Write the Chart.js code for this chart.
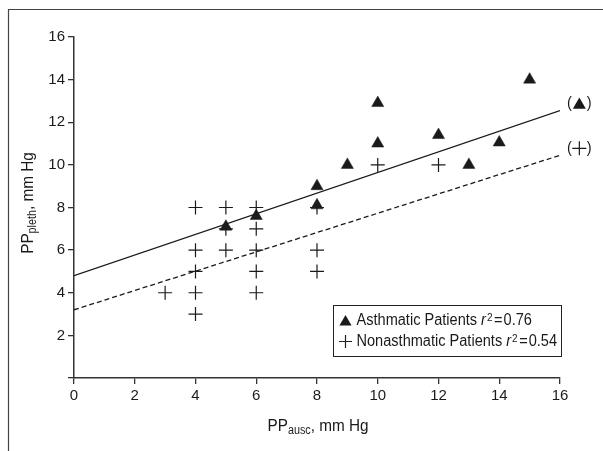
<!DOCTYPE html>
<html><head><meta charset="utf-8">
<script src="https://cdn.jsdelivr.net/npm/chart.js@4/dist/chart.umd.min.js"></script>
<style>html,body{margin:0;padding:0;background:#fff}#wrap{width:603px;height:451px}canvas{display:block}</style>
</head><body>
<div id="wrap"><canvas id="c" width="603" height="451"></canvas></div>
<script>
// Data
const asthmaX = [5, 6, 8, 8, 9, 10, 10, 12, 13, 14, 15];
const asthmaY = [7.1, 7.6, 9.0, 8.1, 10.0, 12.9, 11.0, 11.4, 10.0, 11.05, 14.0];
const nonX = [3, 4, 4, 4, 4, 4, 5, 5, 5, 6, 6, 6, 6, 6, 8, 8, 8, 10, 12];
const nonY = [4, 3, 4, 5, 6, 8, 6, 7, 8, 4, 5, 6, 7, 8, 5, 6, 8, 10, 10];
const fitX = [0, 16];
const asthmaFit = [4.8, 12.55];
const nonFit = [3.2, 10.45];
const xTicks = [0, 2, 4, 6, 8, 10, 12, 14, 16];
const yTicks = [0, 2, 4, 6, 8, 10, 12, 14, 16];
const legendRows = [
  {name: 'Asthmatic Patients ', r2: '0.76', marker: 'triangle'},
  {name: 'Nonasthmatic Patients ', r2: '0.54', marker: 'cross'}
];
const lineTags = ['triangle', 'cross'];

const FONT = '"Liberation Sans", Arial, sans-serif';
const INK = '#1a1a1a';
const AX = '#333';

const pts = (xs, ys) => xs.map((x, i) => ({x, y: ys[i]}));

function drawTri(ctx, cx, cy, r) {
  ctx.beginPath();
  ctx.moveTo(cx, cy - r);
  ctx.lineTo(cx + r * 0.866, cy + r * 0.5);
  ctx.lineTo(cx - r * 0.866, cy + r * 0.5);
  ctx.closePath();
  ctx.fill();
}
function drawCross(ctx, cx, cy, r) {
  ctx.beginPath();
  ctx.moveTo(cx - r, cy); ctx.lineTo(cx + r, cy);
  ctx.moveTo(cx, cy - r); ctx.lineTo(cx, cy + r);
  ctx.stroke();
}
// draw horizontally condensed text, returns advance width
function ctext(ctx, s, x, y, font, sq) {
  ctx.font = font;
  ctx.save();
  ctx.translate(x, y);
  ctx.scale(sq, 1);
  ctx.textAlign = 'left';
  ctx.fillText(s, 0, 0);
  ctx.restore();
  return ctx.measureText(s).width * sq;
}
function cwidth(ctx, s, font, sq) { ctx.font = font; return ctx.measureText(s).width * sq; }

const decor = {
  id: 'decor',
  beforeDraw(chart) {
    const ctx = chart.ctx;
    ctx.save();
    ctx.fillStyle = '#fff';
    ctx.fillRect(0, 0, chart.width, chart.height);
    ctx.strokeStyle = '#444';
    ctx.lineWidth = 1.2;
    ctx.beginPath();
    ctx.moveTo(8.5, 460); ctx.lineTo(8.5, 9.5); ctx.lineTo(620, 9.5);
    ctx.stroke();
    ctx.restore();
  },
  afterDraw(chart) {
    const ctx = chart.ctx;
    const xs = chart.scales.x, ys = chart.scales.y;
    ctx.save();
    ctx.fillStyle = INK; ctx.strokeStyle = INK;
    ctx.textBaseline = 'middle';
    const tBig = '17px ' + FONT, tSmall = '12px ' + FONT, TSQ = 0.9;
    function drawTitle(cx, cy, main, sub, rest) {
      const w = cwidth(ctx, main, tBig, TSQ) + cwidth(ctx, sub, tSmall, TSQ) + cwidth(ctx, rest, tBig, TSQ);
      let x = cx - w / 2;
      x += ctext(ctx, main, x, cy, tBig, TSQ);
      x += ctext(ctx, sub, x, cy + 5, tSmall, TSQ);
      ctext(ctx, rest, x, cy, tBig, TSQ);
    }
    drawTitle((xs.left + xs.right) / 2 + 1, 426, 'PP', 'ausc', ', mm Hg');
    ctx.save();
    ctx.translate(28, 203);
    ctx.rotate(-Math.PI / 2);
    drawTitle(0, 0, 'PP', 'pleth', ', mm Hg');
    ctx.restore();

    const big = '16px ' + FONT, small = '11px ' + FONT, SQ = 0.91;
    // line-end tags
    const ends = [asthmaFit[1], nonFit[1]];
    lineTags.forEach((tag, i) => {
      const px = xs.getPixelForValue(fitX[1]) + 7;
      const py = ys.getPixelForValue(ends[i]) - 7;
      const wp = ctext(ctx, '(', px, py, big, SQ);
      if (tag === 'triangle') {
        drawTri(ctx, px + wp + 7.5, py + 1.5, 7.5);
      } else {
        ctx.lineWidth = 1.2;
        drawCross(ctx, px + wp + 7.5, py, 7);
      }
      ctext(ctx, ')', px + wp + 15, py, big, SQ);
    });

    // legend
    const bx = 333.5, by = 305.5, bw = 228, bh = 51;
    ctx.lineWidth = 1;
    ctx.strokeStyle = '#222';
    ctx.strokeRect(bx, by, bw, bh);
    legendRows.forEach((row, i) => {
      const cy = by + 15 + i * 21;
      let x = bx + 23;
      if (row.marker === 'triangle') drawTri(ctx, bx + 12, cy + 1.5, 7);
      else { ctx.lineWidth = 1.2; drawCross(ctx, bx + 12, cy, 6.5); }
      x += ctext(ctx, row.name, x, cy, big, SQ);
      x += ctext(ctx, 'r', x, cy, 'italic ' + big, SQ) + 1;
      x += ctext(ctx, '2', x, cy - 3, small, SQ) + 1.5;
      x += ctext(ctx, '=', x, cy, big, SQ) + 1;
      ctext(ctx, row.r2, x, cy, big, SQ);
    });
    ctx.restore();
  }
};

new Chart(document.getElementById('c'), {
  type: 'scatter',
  data: {
    datasets: [
      {type: 'line', data: pts(fitX, asthmaFit), borderColor: INK, borderWidth: 1.3, pointRadius: 0, fill: false, order: 3},
      {type: 'line', data: pts(fitX, nonFit), borderColor: INK, borderWidth: 1.3, borderDash: [5, 3], pointRadius: 0, fill: false, order: 3},
      {data: pts(nonX, nonY), pointStyle: 'cross', pointRadius: 7, borderColor: INK, borderWidth: 1.2, backgroundColor: INK, order: 2},
      {data: pts(asthmaX, asthmaY), pointStyle: 'triangle', pointRadius: 7, borderColor: INK, borderWidth: 0.5, backgroundColor: INK, order: 1}
    ]
  },
  options: {
    responsive: false,
    animation: false,
    devicePixelRatio: 1,
    layout: {padding: {left: 0, top: 37, right: 43, bottom: 0}},
    plugins: {legend: {display: false}, tooltip: {enabled: false}},
    scales: {
      x: {
        type: 'linear', min: 0, max: 16,
        afterBuildTicks: s => { s.ticks = xTicks.map(v => ({value: v})); },
        afterFit: s => { s.height = 73; },
        grid: {drawOnChartArea: false, drawTicks: true, tickLength: 6, color: AX, lineWidth: 1.3},
        border: {display: true, color: AX, width: 1.5},
        ticks: {color: INK, font: {family: FONT, size: 15}, padding: 3, callback: v => String(v)}
      },
      y: {
        type: 'linear', min: 0, max: 16,
        afterBuildTicks: s => { s.ticks = yTicks.map(v => ({value: v})); },
        afterFit: s => { s.width = 74; },
        grid: {drawOnChartArea: false, drawTicks: true, tickLength: 6, color: AX, lineWidth: 1.3},
        border: {display: true, color: AX, width: 1.5},
        ticks: {color: INK, font: {family: FONT, size: 15}, padding: 3, callback: v => (v === 0 ? '' : String(v))}
      }
    }
  },
  plugins: [decor]
});
</script>
</body></html>
